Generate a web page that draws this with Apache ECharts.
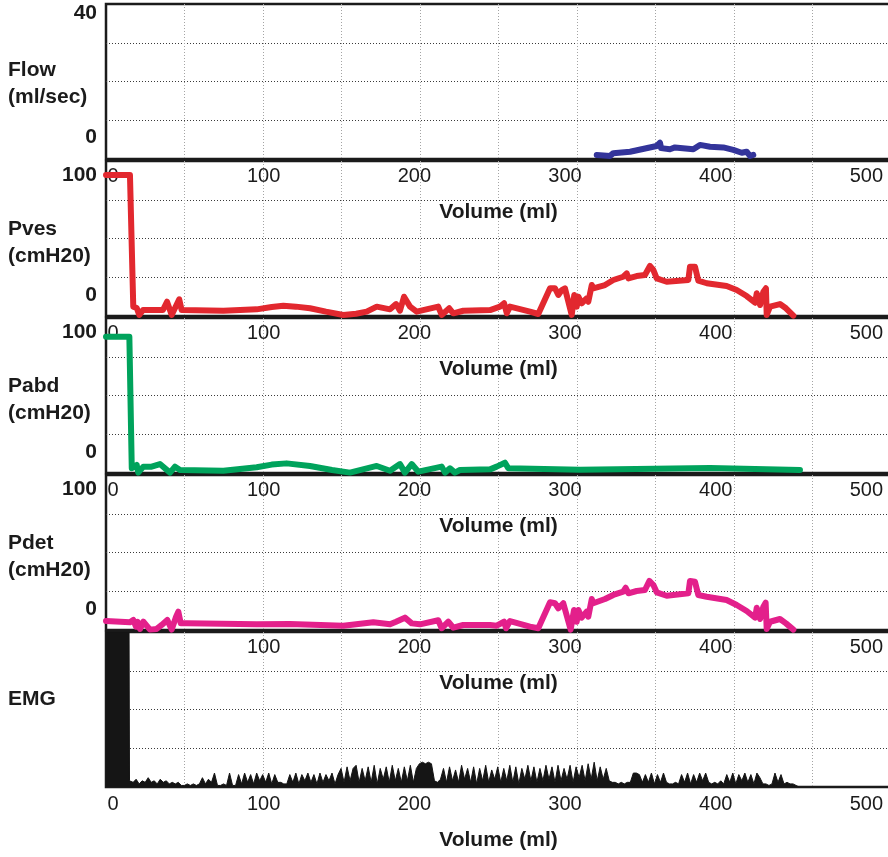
<!DOCTYPE html>
<html>
<head>
<meta charset="utf-8">
<script src="https://cdn.jsdelivr.net/npm/echarts@6/dist/echarts.min.js"></script>
<style>
  html, body { margin: 0; padding: 0; background: #fff; overflow: hidden; width: 888px; height: 857px; }
  /* the plot frames run past the right edge of the page */
  #chart { width: 894px; height: 857px; }
</style>
</head>
<body>
<div id="chart"></div>
<script>
// ---- Tick labels ----
const volumeTicks = [0, 100, 200, 300, 400, 500];
const flowTicks = [0, 40];
const pressureTicks = [0, 100];

// ---- Traces: [volume (ml), value] ----
const flow = [
  [325.7, 0.3], [334.5, 0], [336.7, 0.8], [347.8, 1.2], [365.5, 2.8], [367.7, 3.7],
  [368.4, 2.2], [374.3, 1.9], [377.6, 2.4], [389.8, 1.9], [394.2, 3.1], [400.9, 2.6],
  [409.7, 2.4], [416.3, 1.7], [421.9, 0.9], [425.2, 1.2], [427.4, 0], [429.6, 0.3]
];

const pves = [
  [0, 100], [15.9, 100], [18.1, 3.2], [20.4, 2.2], [22.1, -2.9], [24.6, 0.7], [37.8, 0.7],
  [40.5, 6.8], [43.6, -2.9], [48.6, 8.6], [50.2, 0.7], [77.9, 0.2], [100, 1.2], [110, 3],
  [117.7, 3.9], [126, 3.2], [135.4, 2], [146, -0.5], [157.5, -2.9], [166, -2], [173, -0.5],
  [179.7, 3.2], [188.5, 1.2], [192.5, 5.1], [195.1, 0.2], [197.8, 10.5], [201.8, 3.2],
  [206.2, -0.5], [220.5, 3.2], [222.8, -2.9], [227.8, 2], [230.5, -1.7], [237.1, 0.2],
  [254.9, 0.7], [261.5, 3.2], [264.2, 5.7], [266, -1.7], [268.1, 3.2], [281.4, -0.5],
  [286.9, -2.2], [294.7, 16.7], [298, 16.7], [300.2, 11.8], [302.5, 15.4], [304.6, 16.7],
  [309.1, -2.9], [310.8, 11.8], [312.4, 3.2], [313.5, 10.5], [315.7, 5.7], [319, 9.3],
  [320.1, 6.8], [322.4, 19.1], [323.4, 16.7], [331.2, 19.1], [336.7, 22.8], [343.3, 25.2],
  [345.6, 27.7], [346.7, 24], [352.2, 25.7], [357.7, 26.5], [361, 33.1], [363.3, 30.1],
  [365.5, 24], [372.1, 21.5], [386.5, 22.8], [387.6, 32.6], [390.9, 32.6], [393.1, 22.3],
  [398.7, 20.4], [411.9, 18.4], [418.6, 15.4], [425.2, 11], [430.8, 6.1], [431.9, 13],
  [434.1, 4.4], [436.3, 14.2], [438, 16.7], [438.5, -2.9], [440.7, 3.2], [447.3, 5.1],
  [451.3, 2], [456.2, -3.4]
];

const pabd = [
  [0, 96.5], [15.5, 96.5], [17.1, -0.2], [20.4, 2.2], [21.4, -3.4], [24.8, 1], [30.3, 1],
  [35.8, 2.9], [42.5, -3.4], [45.8, 1], [49.1, -1.5], [77.9, -2], [100, 0.5], [110, 2.5],
  [119.9, 3.4], [135.4, 1.5], [150, -1.5], [161.9, -3.4], [179.7, 1.5], [188.5, -2],
  [195.1, 2.9], [198.4, -3.4], [202.9, 2.9], [207.3, -2.7], [222.8, 1], [225, -3.4],
  [228.3, -0.2], [231.6, -3.4], [234.9, -1.5], [254.9, -1], [259.3, 1], [264.8, 3.9],
  [267, -0.2], [314.6, -1.2], [400.9, 0], [460.6, -1.5]
];

const pdet = [
  [0, 2.9], [15.9, 2], [18.1, 3.7], [19.9, -1.2], [21, 2.4], [22.6, -2.9], [24.8, 2.4],
  [29.2, -3.4], [33.6, -2.9], [37, 0], [40.7, 3.7], [43.6, -3.4], [46.5, 6.1], [48, 9.8],
  [49.6, 1.2], [53.6, 1.2], [100, 0.5], [122.1, 0.7], [157.5, -0.5], [177.4, 2], [188.5, 0.5],
  [192.5, 2.4], [198.4, 5.4], [202.9, 1.2], [208.4, 0.5], [220.5, 3.5], [222.8, -2.4],
  [227.2, 2.4], [230.5, -2], [237.1, 0], [254.9, 0], [259.3, -0.5], [264.2, 2.4], [265.5, -2.4],
  [268.1, 2.9], [281.4, -1.2], [286.9, -2.4], [294.7, 16.7], [298, 16], [300.2, 12.3],
  [303.5, 16], [304.6, 17.1], [308.4, -3.4], [310.6, 11], [312.4, 2.4], [313.5, 11],
  [315.7, 5.4], [319, 9.8], [320.1, 6.1], [322.4, 19.1], [323.4, 16], [331.2, 19.1],
  [336.7, 22.1], [343.3, 24.5], [344.9, 27.4], [346.7, 23.3], [352.2, 25], [357.7, 25.7],
  [360.6, 32.4], [363.3, 29.4], [365.5, 24], [372.1, 21.5], [386.5, 23.3], [387.6, 32.4],
  [390.9, 31.8], [393.1, 22.1], [398.7, 20.8], [411.9, 18.4], [418.6, 14.7], [425.2, 10.3],
  [430.8, 5.4], [431.9, 12.7], [434.1, 4.4], [436.3, 13.5], [437.8, 16.4], [438.5, -2.9],
  [440.7, 2.4], [447.3, 4.4], [451.3, 1.2], [456.2, -3.4]
];

// EMG: saturated block at the start, then activity sampled every 2 ml from 16 ml
const emgSaturated = [[0, 100], [15.3, 100], [15.6, 4]];
const emgStartVolume = 16;
const emgStepVolume = 2;
const emgActivity = [
  4, 3, 5, 2, 4, 3, 6, 3, 4, 2, 5, 3, 4, 2, 3, 2, 3, 1, 1,
  2, 1, 2, 1, 2,
  6, 2, 5, 3, 9,
  1, 1, 2, 1,
  9, 1, 1,
  8, 2, 9, 3, 8, 2, 9, 4, 8, 3, 9, 2, 8, 3,
  3, 2, 2,
  8, 3, 9, 2, 8, 4, 9, 3, 8, 2, 9, 3, 8, 4, 9, 2, 8,
  12, 3, 13, 4, 12, 14, 3, 12, 4, 13, 3, 14, 2, 12, 5, 13, 3, 14, 4, 12, 3, 13, 4, 14, 3, 12,
  15, 16, 15, 16, 15,
  4, 3, 5,
  12, 3, 13, 4, 11, 3, 14, 5, 12, 3, 13, 2, 12, 4, 14, 3, 11, 5, 13, 3,
  12, 4, 14, 3, 13, 2, 12, 5, 14, 4, 13, 3, 12, 4, 14, 5, 13, 3, 14, 4,
  12, 5, 14, 3, 13, 6, 14, 4, 15, 5, 16, 4, 13, 5, 12, 4,
  3, 3, 2, 3, 2, 3, 3,
  9, 9, 8,
  3, 8, 3, 9, 2, 8, 3, 9, 3,
  2, 2, 3, 2,
  8, 3, 9, 2, 8, 3, 9, 4, 9, 3,
  2, 3, 2, 4, 2,
  8, 3, 9, 2, 8, 4, 9, 3, 8, 2, 9,
  6, 2, 2, 1, 2,
  9, 3, 8, 2,
  3, 2, 2, 1, 0
];

// ---- Layout & style ----
const FONT = '"Liberation Sans", Arial, Helvetica, sans-serif';
const INK = '#1b1b1b';
const PLOT_LEFT = 106;
const PLOT_WIDTH = 785;
const PLOT_HEIGHT = 155;
const panelTops = [4, 161, 318, 475, 632];

const emg = emgSaturated.concat(
  emgActivity.map((v, i) => [emgStartVolume + i * emgStepVolume, v])
);

const panels = [
  { title: 'Flow\n(ml/sec)', titleTop: 57, yMin: -0.84, yMax: 42.52, ticks: flowTicks, zeroLift: 19, data: flow, color: '#33349a' },
  { title: 'Pves\n(cmH20)', titleTop: 216, yMin: -3.68, yMax: 110.3, ticks: pressureTicks, zeroLift: 16, data: pves, color: '#e2282f' },
  { title: 'Pabd\n(cmH20)', titleTop: 373, yMin: -3.68, yMax: 110.3, ticks: pressureTicks, zeroLift: 16, data: pabd, color: '#00a35c' },
  { title: 'Pdet\n(cmH20)', titleTop: 530, yMin: -3.68, yMax: 110.3, ticks: pressureTicks, zeroLift: 16, data: pdet, color: '#e3208b' },
  { title: 'EMG', titleTop: 686, yMin: 0, yMax: 100, ticks: null, zeroLift: 0, data: emg, color: '#151515', area: true }
];

const grid = [], xAxis = [], yAxis = [], series = [];

panels.forEach((p, i) => {
  grid.push({
    left: PLOT_LEFT, top: panelTops[i], width: PLOT_WIDTH, height: PLOT_HEIGHT,
    show: true, borderColor: INK, borderWidth: 2.5, backgroundColor: 'transparent'
  });

  // volume axis carrying the labels and the name
  xAxis.push({
    type: 'value', gridIndex: i, min: 0, max: 521, position: 'bottom',
    axisLine: { show: false }, axisTick: { show: false }, splitLine: { show: false },
    axisLabel: {
      customValues: volumeTicks,
      formatter: v => (volumeTicks.indexOf(v) >= 0 ? String(v) : ''),
      fontSize: 20, color: INK, fontFamily: FONT, margin: 7, padding: [0, 0, 0, 14]
    },
    name: 'Volume (ml)', nameLocation: 'middle', nameGap: 43,
    nameTextStyle: { fontSize: 21, fontWeight: 'bold', color: INK, fontFamily: FONT }
  });
  // ten equal columns for the vertical dotted grid
  xAxis.push({
    type: 'value', gridIndex: i, min: 0, max: 10, interval: 1, position: 'top',
    axisLine: { show: false }, axisTick: { show: false }, axisLabel: { show: false },
    splitLine: { show: true, showMinLine: false, showMaxLine: false,
      lineStyle: { color: '#a4a4a4', width: 1, type: [1, 2] } }
  });

  const labelStyle = { fontSize: 21, fontWeight: 'bold', color: INK, fontFamily: FONT };
  yAxis.push({
    type: 'value', gridIndex: i, min: p.yMin, max: p.yMax, position: 'left',
    axisLine: { show: false }, axisTick: { show: false }, splitLine: { show: false },
    axisLabel: p.ticks ? {
      customValues: p.ticks,
      margin: 9,
      formatter: v => (p.ticks.indexOf(v) < 0 ? '' : (v === 0 ? '{lift|0}' : '{top|' + v + '}')),
      rich: {
        lift: Object.assign({ padding: [0, 0, 2 * p.zeroLift, 0] }, labelStyle),
        top: labelStyle
      }
    } : { show: false }
  });
  // four equal rows for the horizontal dotted grid
  yAxis.push({
    type: 'value', gridIndex: i, min: 0, max: 4, interval: 1, position: 'right',
    axisLine: { show: false }, axisTick: { show: false }, axisLabel: { show: false },
    splitLine: { show: true, showMinLine: false, showMaxLine: false,
      lineStyle: { color: '#3a3a3a', width: 1, type: [1, 2] } }
  });

  series.push(p.area ? {
    type: 'line', xAxisIndex: 2 * i, yAxisIndex: 2 * i, data: p.data,
    showSymbol: false, symbol: 'none', z: 3,
    lineStyle: { width: 1, color: p.color },
    areaStyle: { color: p.color, opacity: 1 }
  } : {
    type: 'line', xAxisIndex: 2 * i, yAxisIndex: 2 * i, data: p.data,
    showSymbol: false, symbol: 'none', z: 3,
    lineStyle: { width: 6, color: p.color, join: 'round', cap: 'round' }
  });
});

const chart = echarts.init(document.getElementById('chart'), null, { renderer: 'canvas' });
chart.setOption({
  animation: false,
  backgroundColor: '#ffffff',
  textStyle: { fontFamily: FONT },
  grid, xAxis, yAxis, series,
  graphic: panels.map(p => ({
    type: 'text', left: 8, top: p.titleTop, z: 10,
    style: { text: p.title, fontSize: 21, fontWeight: 'bold', fontFamily: FONT, fill: INK, lineHeight: 27 }
  }))
});
</script>
</body>
</html>
